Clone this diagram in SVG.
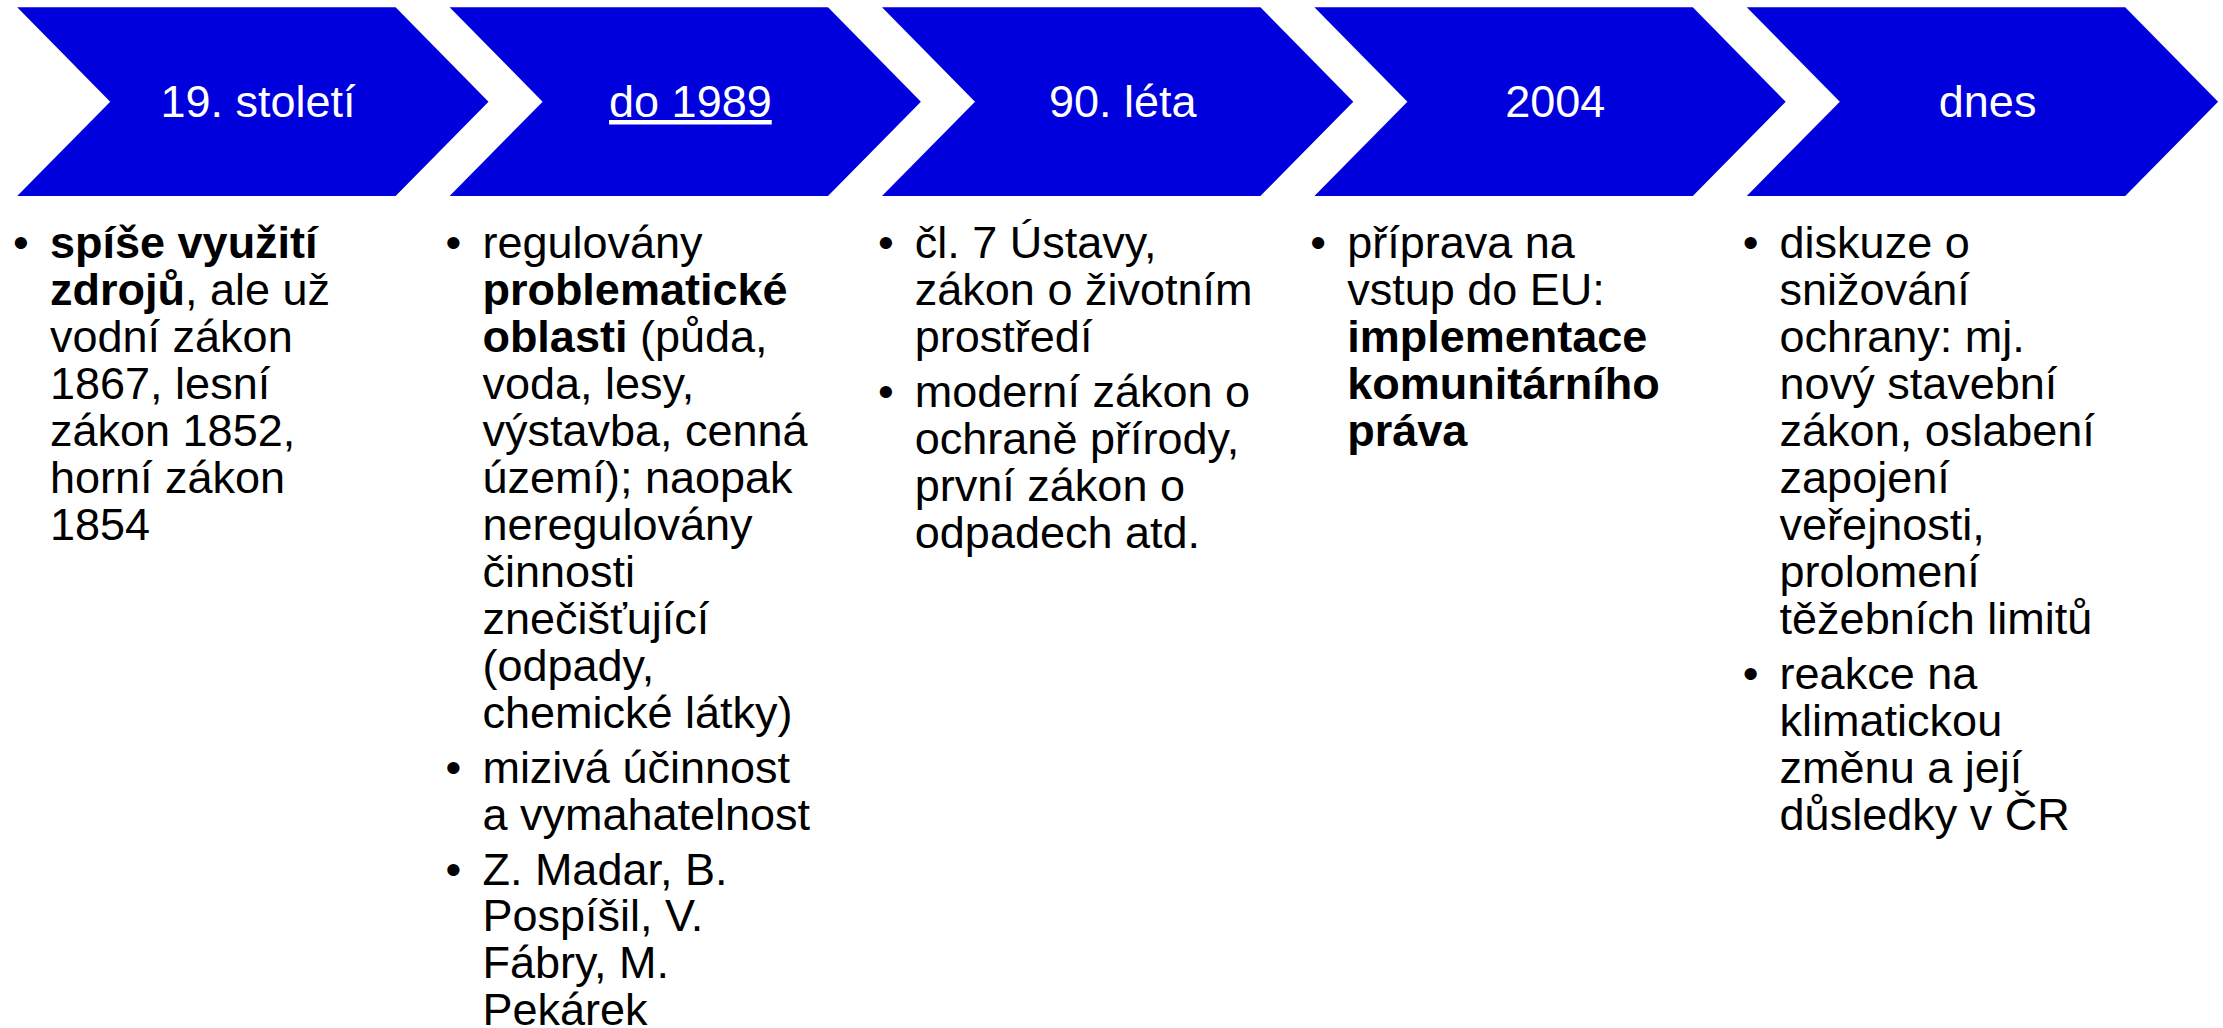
<svg xmlns="http://www.w3.org/2000/svg" width="2223" height="1028" viewBox="0 0 2223 1028">
<style>
.chev{fill:#0000DC;stroke:none}
.title{font-family:"Liberation Sans",Arial,sans-serif;font-size:45px;fill:#FFFFFF;text-anchor:middle}
.body{font-family:"Liberation Sans",Arial,sans-serif;font-size:45px;fill:#000000}
.b{font-weight:bold}
.bul{font-family:"Liberation Sans",Arial,sans-serif;font-size:45px;fill:#000000;text-anchor:middle}
</style>
<defs>
<polygon id="chevShape" points="0,7.3 378.4,7.3 471.3,101.7 378.4,196 0,196 93,101.7"/>
</defs>
<rect width="2223" height="1028" fill="#FFFFFF"/>

<g id="node1">
<use href="#chevShape" class="chev" x="17.2"/>
<text class="title" x="258" y="117">19. století</text>
<text class="bul" x="21" y="258">•</text>
<text class="body">
<tspan x="50" y="258" class="b">spíše využití</tspan>
<tspan x="50" y="305"><tspan class="b">zdrojů</tspan>, ale už</tspan>
<tspan x="50" y="352">vodní zákon</tspan>
<tspan x="50" y="399">1867, lesní</tspan>
<tspan x="50" y="446">zákon 1852,</tspan>
<tspan x="50" y="493">horní zákon</tspan>
<tspan x="50" y="540">1854</tspan>
</text>
</g>

<g id="node2">
<use href="#chevShape" class="chev" x="449.6"/>
<text class="title" x="690.4" y="117" text-decoration="underline">do 1989</text>
<text class="bul" x="453.4" y="258">•</text>
<text class="bul" x="453.4" y="783">•</text>
<text class="bul" x="453.4" y="885">•</text>
<text class="body">
<tspan x="482.4" y="258">regulovány</tspan>
<tspan x="482.4" y="305" class="b">problematické</tspan>
<tspan x="482.4" y="352"><tspan class="b">oblasti</tspan> (půda,</tspan>
<tspan x="482.4" y="399">voda, lesy,</tspan>
<tspan x="482.4" y="446">výstavba, cenná</tspan>
<tspan x="482.4" y="493">území); naopak</tspan>
<tspan x="482.4" y="540">neregulovány</tspan>
<tspan x="482.4" y="587">činnosti</tspan>
<tspan x="482.4" y="634">znečišťující</tspan>
<tspan x="482.4" y="681">(odpady,</tspan>
<tspan x="482.4" y="728">chemické látky)</tspan>
<tspan x="482.4" y="783">mizivá účinnost</tspan>
<tspan x="482.4" y="830">a vymahatelnost</tspan>
<tspan x="482.4" y="885">Z. Madar, B.</tspan>
<tspan x="482.4" y="931">Pospíšil, V.</tspan>
<tspan x="482.4" y="978">Fábry, M.</tspan>
<tspan x="482.4" y="1025">Pekárek</tspan>
</text>
</g>

<g id="node3">
<use href="#chevShape" class="chev" x="882"/>
<text class="title" x="1122.8" y="117">90. léta</text>
<text class="bul" x="885.8" y="258">•</text>
<text class="bul" x="885.8" y="407">•</text>
<text class="body">
<tspan x="914.8" y="258">čl. 7 Ústavy,</tspan>
<tspan x="914.8" y="305">zákon o životním</tspan>
<tspan x="914.8" y="352">prostředí</tspan>
<tspan x="914.8" y="407">moderní zákon o</tspan>
<tspan x="914.8" y="454">ochraně přírody,</tspan>
<tspan x="914.8" y="501">první zákon o</tspan>
<tspan x="914.8" y="548">odpadech atd.</tspan>
</text>
</g>

<g id="node4">
<use href="#chevShape" class="chev" x="1314.4"/>
<text class="title" x="1555.2" y="117">2004</text>
<text class="bul" x="1318.2" y="258">•</text>
<text class="body">
<tspan x="1347.2" y="258">příprava na</tspan>
<tspan x="1347.2" y="305">vstup do EU:</tspan>
<tspan x="1347.2" y="352" class="b">implementace</tspan>
<tspan x="1347.2" y="399" class="b">komunitárního</tspan>
<tspan x="1347.2" y="446" class="b">práva</tspan>
</text>
</g>

<g id="node5">
<use href="#chevShape" class="chev" x="1746.8"/>
<text class="title" x="1987.6" y="117">dnes</text>
<text class="bul" x="1750.6" y="258">•</text>
<text class="bul" x="1750.6" y="689">•</text>
<text class="body">
<tspan x="1779.6" y="258">diskuze o</tspan>
<tspan x="1779.6" y="305">snižování</tspan>
<tspan x="1779.6" y="352">ochrany: mj.</tspan>
<tspan x="1779.6" y="399">nový stavební</tspan>
<tspan x="1779.6" y="446">zákon, oslabení</tspan>
<tspan x="1779.6" y="493">zapojení</tspan>
<tspan x="1779.6" y="540">veřejnosti,</tspan>
<tspan x="1779.6" y="587">prolomení</tspan>
<tspan x="1779.6" y="634">těžebních limitů</tspan>
<tspan x="1779.6" y="689">reakce na</tspan>
<tspan x="1779.6" y="736">klimatickou</tspan>
<tspan x="1779.6" y="783">změnu a její</tspan>
<tspan x="1779.6" y="830">důsledky v ČR</tspan>
</text>
</g>

<g id="connectors"></g>
</svg>
